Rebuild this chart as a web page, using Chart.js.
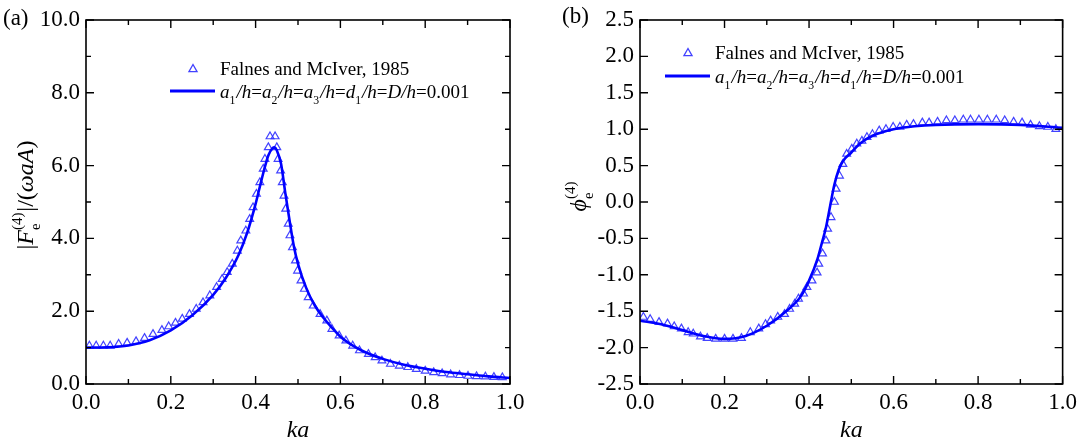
<!DOCTYPE html>
<html>
<head>
<meta charset="utf-8">
<script src="https://cdn.jsdelivr.net/npm/chart.js@4.4.0/dist/chart.umd.min.js"></script>
<style>
  html, body { margin: 0; padding: 0; background: #fff; }
  #wrap { position: relative; width: 1082px; height: 445px; overflow: hidden; }
  canvas { position: absolute; top: 0; }
</style>
</head>
<body>
<div id="wrap">
  <canvas id="chartA" width="540" height="445" style="left:0"></canvas>
  <canvas id="chartB" width="542" height="445" style="left:540px"></canvas>
</div>
<script>
// ---- panel (a): |F_e| ----
const kaLineA = [0, 0.05, 0.1, 0.15, 0.2, 0.25, 0.3, 0.33, 0.36, 0.38, 0.4, 0.41, 0.42, 0.43, 0.44, 0.445, 0.45, 0.46, 0.47, 0.48, 0.49, 0.5, 0.52, 0.54, 0.56, 0.58, 0.6, 0.65, 0.7, 0.75, 0.8, 0.85, 0.9, 0.95, 1.0];
const forceLine = [1.00, 1.01, 1.06, 1.20, 1.47, 1.88, 2.45, 2.92, 3.55, 4.15, 4.95, 5.42, 5.88, 6.28, 6.48, 6.5, 6.42, 6.05, 5.25, 4.5, 3.8, 3.3, 2.62, 2.15, 1.82, 1.55, 1.3, 0.92, 0.69, 0.53, 0.42, 0.33, 0.27, 0.21, 0.165];

const kaMarkA = [0.008, 0.024, 0.041, 0.057, 0.077, 0.097, 0.118, 0.138, 0.158, 0.179, 0.195, 0.211, 0.227, 0.244, 0.260, 0.276, 0.292, 0.308, 0.321, 0.333, 0.345, 0.357, 0.365, 0.377, 0.386, 0.394, 0.402, 0.410, 0.418, 0.422, 0.430, 0.434, 0.446, 0.450, 0.453, 0.459, 0.463, 0.467, 0.471, 0.477, 0.481, 0.487, 0.494, 0.499, 0.507, 0.515, 0.524, 0.536, 0.552, 0.568, 0.580, 0.597, 0.613, 0.629, 0.645, 0.666, 0.682, 0.698, 0.718, 0.739, 0.759, 0.779, 0.800, 0.820, 0.840, 0.860, 0.881, 0.901, 0.921, 0.942, 0.962, 0.982];
const forceMark = [1.05, 1.05, 1.05, 1.05, 1.10, 1.13, 1.17, 1.26, 1.37, 1.48, 1.58, 1.68, 1.79, 1.92, 2.06, 2.24, 2.43, 2.66, 2.88, 3.07, 3.30, 3.66, 3.94, 4.21, 4.53, 4.85, 5.22, 5.54, 5.91, 6.18, 6.50, 6.80, 6.80, 6.50, 6.18, 5.86, 5.54, 5.17, 4.81, 4.40, 4.08, 3.75, 3.39, 3.11, 2.84, 2.61, 2.38, 2.15, 1.92, 1.74, 1.51, 1.33, 1.19, 1.05, 0.92, 0.82, 0.73, 0.64, 0.55, 0.50, 0.46, 0.41, 0.36, 0.32, 0.29, 0.26, 0.24, 0.22, 0.21, 0.20, 0.19, 0.18];

// ---- panel (b): phase ----
const kaLineB = [0, 0.05, 0.1, 0.15, 0.2, 0.25, 0.3, 0.35, 0.38, 0.4, 0.42, 0.43, 0.44, 0.45, 0.46, 0.47, 0.48, 0.5, 0.52, 0.55, 0.6, 0.65, 0.7, 0.8, 0.9, 1.0];
const phaseLine = [-1.63, -1.68, -1.76, -1.84, -1.88, -1.84, -1.70, -1.48, -1.30, -1.08, -0.78, -0.57, -0.35, -0.05, 0.24, 0.44, 0.56, 0.68, 0.80, 0.91, 1.00, 1.04, 1.06, 1.07, 1.06, 1.02];

const kaMarkB = [0.008, 0.024, 0.045, 0.065, 0.081, 0.098, 0.114, 0.126, 0.143, 0.159, 0.179, 0.200, 0.220, 0.240, 0.261, 0.281, 0.297, 0.309, 0.326, 0.342, 0.354, 0.366, 0.375, 0.387, 0.395, 0.407, 0.419, 0.423, 0.432, 0.440, 0.444, 0.452, 0.460, 0.464, 0.472, 0.480, 0.489, 0.501, 0.513, 0.525, 0.537, 0.550, 0.566, 0.582, 0.599, 0.615, 0.631, 0.647, 0.668, 0.684, 0.704, 0.725, 0.745, 0.765, 0.782, 0.802, 0.822, 0.843, 0.863, 0.884, 0.904, 0.924, 0.945, 0.965, 0.984];
const phaseMark = [-1.58, -1.61, -1.65, -1.67, -1.71, -1.74, -1.79, -1.81, -1.85, -1.87, -1.88, -1.88, -1.88, -1.87, -1.79, -1.74, -1.68, -1.63, -1.58, -1.54, -1.47, -1.40, -1.33, -1.26, -1.17, -1.08, -0.97, -0.85, -0.71, -0.53, -0.37, -0.21, 0.00, 0.18, 0.36, 0.52, 0.66, 0.73, 0.80, 0.84, 0.89, 0.93, 0.98, 1.00, 1.03, 1.03, 1.06, 1.07, 1.09, 1.09, 1.10, 1.12, 1.12, 1.13, 1.13, 1.13, 1.13, 1.13, 1.12, 1.10, 1.09, 1.06, 1.04, 1.03, 1.00];

const legendText = "Falnes and McIver, 1985";
const FONT = '"Liberation Serif", "Times New Roman", serif';
const LINE_BLUE = "#0000ff";
const MARK_BLUE = "rgba(45, 45, 255, 0.9)";

function pts(xs, ys) {
  return xs.map(function (x, i) { return { x: x, y: ys[i] }; });
}

function fontOf(size, it) {
  return (it ? "italic " : "") + size + "px " + FONT;
}

// text pieces: {t, it} plain run, or {sub, sup} stacked scripts
function drawParts(ctx, parts, x, y, size) {
  ctx.textAlign = "left";
  ctx.textBaseline = "alphabetic";
  for (const p of parts) {
    if (p.t !== undefined) {
      ctx.font = fontOf(size, p.it);
      ctx.fillText(p.t, x, y);
      x += ctx.measureText(p.t).width;
    } else {
      const s = size * 0.62;
      let w = 0;
      if (p.sub) {
        ctx.font = fontOf(s, false);
        ctx.fillText(p.sub, x, y + size * 0.3);
        w = Math.max(w, ctx.measureText(p.sub).width);
      }
      if (p.sup) {
        ctx.font = fontOf(s, false);
        ctx.fillText(p.sup, x, y - size * 0.45);
        w = Math.max(w, ctx.measureText(p.sup).width);
      }
      x += w + 1;
    }
  }
  return x;
}

function partsWidth(ctx, parts, size) {
  let w = 0;
  for (const p of parts) {
    if (p.t !== undefined) {
      ctx.font = fontOf(size, p.it);
      w += ctx.measureText(p.t).width;
    } else {
      ctx.font = fontOf(size * 0.62, false);
      w += Math.max(p.sub ? ctx.measureText(p.sub).width : 0, p.sup ? ctx.measureText(p.sup).width : 0) + 1;
    }
  }
  return w;
}

const legendLine2 = [
  { t: "a", it: true }, { sub: "1" }, { t: "/h", it: true }, { t: "=" },
  { t: "a", it: true }, { sub: "2" }, { t: "/h", it: true }, { t: "=" },
  { t: "a", it: true }, { sub: "3" }, { t: "/h", it: true }, { t: "=" },
  { t: "d", it: true }, { sub: "1" }, { t: "/h", it: true }, { t: "=" },
  { t: "D/h", it: true }, { t: "=0.001" }
];

function triangle(ctx, cx, cy, r) {
  ctx.beginPath();
  ctx.moveTo(cx, cy - r);
  ctx.lineTo(cx + r * 0.9, cy + r * 0.6);
  ctx.lineTo(cx - r * 0.9, cy + r * 0.6);
  ctx.closePath();
  ctx.stroke();
}

function framePlugin(cfg) {
  return {
    id: "frame" + cfg.tag,
    afterDraw(chart) {
      const ctx = chart.ctx;
      const a = chart.chartArea;
      const xs = chart.scales.x, ys = chart.scales.y;
      ctx.save();
      ctx.strokeStyle = "#000";
      ctx.lineWidth = 1.6;
      ctx.strokeRect(a.left, a.top, a.right - a.left, a.bottom - a.top);
      ctx.lineWidth = 1.4;
      xs.ticks.forEach(function (t) {
        const px = xs.getPixelForValue(t.value);
        const len = t.label !== "" ? 8 : 5;
        ctx.beginPath();
        ctx.moveTo(px, a.bottom); ctx.lineTo(px, a.bottom - len);
        ctx.moveTo(px, a.top); ctx.lineTo(px, a.top + len);
        ctx.stroke();
      });
      ys.ticks.forEach(function (t) {
        const py = ys.getPixelForValue(t.value);
        const len = t.label !== "" ? 8 : 5;
        ctx.beginPath();
        ctx.moveTo(a.left, py); ctx.lineTo(a.left + len, py);
        ctx.moveTo(a.right, py); ctx.lineTo(a.right - len, py);
        ctx.stroke();
      });

      ctx.fillStyle = "#000";
      // panel label
      ctx.font = fontOf(23, false);
      ctx.textAlign = "left";
      ctx.textBaseline = "alphabetic";
      ctx.fillText(cfg.panel, cfg.panelX, cfg.panelY);

      // x title
      ctx.font = fontOf(24, true);
      ctx.textAlign = "center";
      ctx.fillText("ka", (a.left + a.right) / 2, 437);

      // y title, rotated
      const w = partsWidth(ctx, cfg.yTitle, 24);
      ctx.save();
      ctx.translate(cfg.yTitleX, cfg.yTitleY);
      ctx.rotate(-Math.PI / 2);
      drawParts(ctx, cfg.yTitle, -w / 2, 0, 24);
      ctx.restore();

      // legend
      ctx.strokeStyle = MARK_BLUE;
      ctx.lineWidth = 1.3;
      triangle(ctx, cfg.legX - 27, cfg.legY1 - 6, 4.5);
      ctx.fillStyle = "#000";
      ctx.font = fontOf(19, false);
      ctx.textAlign = "left";
      ctx.fillText(legendText, cfg.legX, cfg.legY1);
      ctx.strokeStyle = LINE_BLUE;
      ctx.lineWidth = 3;
      ctx.beginPath();
      ctx.moveTo(cfg.legLine0, cfg.legY2 - 7);
      ctx.lineTo(cfg.legX - 5, cfg.legY2 - 7);
      ctx.stroke();
      drawParts(ctx, legendLine2, cfg.legX, cfg.legY2, 19);
      ctx.restore();
    }
  };
}

function makeChart(id, cfg) {
  return new Chart(document.getElementById(id), {
    type: "line",
    data: {
      datasets: [
        {
          label: "line",
          data: pts(cfg.lineX, cfg.lineY),
          borderColor: LINE_BLUE,
          borderWidth: 2.6,
          pointRadius: 0,
          cubicInterpolationMode: "monotone",
          fill: false
        },
        {
          label: legendText,
          data: pts(cfg.markX, cfg.markY),
          showLine: false,
          pointStyle: "triangle",
          pointRadius: 4.5,
          pointBorderWidth: 1.2,
          pointBorderColor: MARK_BLUE,
          pointBackgroundColor: "rgba(255,255,255,0)"
        }
      ]
    },
    options: {
      responsive: false,
      animation: false,
      devicePixelRatio: 1,
      layout: { padding: { top: 20, right: cfg.padRight, left: 0, bottom: 0 } },
      plugins: { legend: { display: false }, tooltip: { enabled: false } },
      scales: {
        x: {
          type: "linear",
          min: 0, max: 1,
          grid: { display: false, drawTicks: false },
          border: { display: false },
          afterFit(scale) { scale.height = 61; },
          ticks: {
            stepSize: 0.1,
            autoSkip: false,
            maxRotation: 0,
            padding: 5,
            color: "#000",
            font: { family: FONT, size: 23 },
            callback: function (v) { return Math.round(v * 10) % 2 === 0 ? v.toFixed(1) : ""; }
          }
        },
        y: {
          type: "linear",
          min: cfg.yMin, max: cfg.yMax,
          grid: { display: false, drawTicks: false },
          border: { display: false },
          afterFit(scale) { scale.width = cfg.axisW; },
          ticks: {
            stepSize: cfg.yStep,
            autoSkip: false,
            padding: 6,
            color: "#000",
            font: { family: FONT, size: 23 },
            callback: cfg.yLabel
          }
        }
      }
    },
    plugins: [framePlugin(cfg)]
  });
}

makeChart("chartA", {
  tag: "A",
  lineX: kaLineA, lineY: forceLine,
  markX: kaMarkA, markY: forceMark,
  yMin: 0, yMax: 10, yStep: 1,
  yLabel: function (v) { return Math.round(v) % 2 === 0 ? v.toFixed(1) : ""; },
  axisW: 86, padRight: 30,
  panel: "(a)", panelX: 3, panelY: 25,
  yTitle: [{ t: "|" }, { t: "F", it: true }, { sub: "e", sup: "(4)" }, { t: "|/(" }, { t: "\u03c9aA", it: true }, { t: ")" }],
  yTitleX: 33, yTitleY: 195,
  legX: 220, legY1: 75, legY2: 98, legLine0: 170
});

makeChart("chartB", {
  tag: "B",
  lineX: kaLineB, lineY: phaseLine,
  markX: kaMarkB, markY: phaseMark,
  yMin: -2.5, yMax: 2.5, yStep: 0.5,
  yLabel: function (v) { return v.toFixed(1); },
  axisW: 100, padRight: 17,
  panel: "(b)", panelX: 22, panelY: 23,
  yTitle: [{ t: "\u03d5", it: true }, { sub: "e", sup: "(4)" }],
  yTitleX: 46, yTitleY: 196,
  legX: 175, legY1: 59, legY2: 83, legLine0: 125
});
</script>
</body>
</html>
